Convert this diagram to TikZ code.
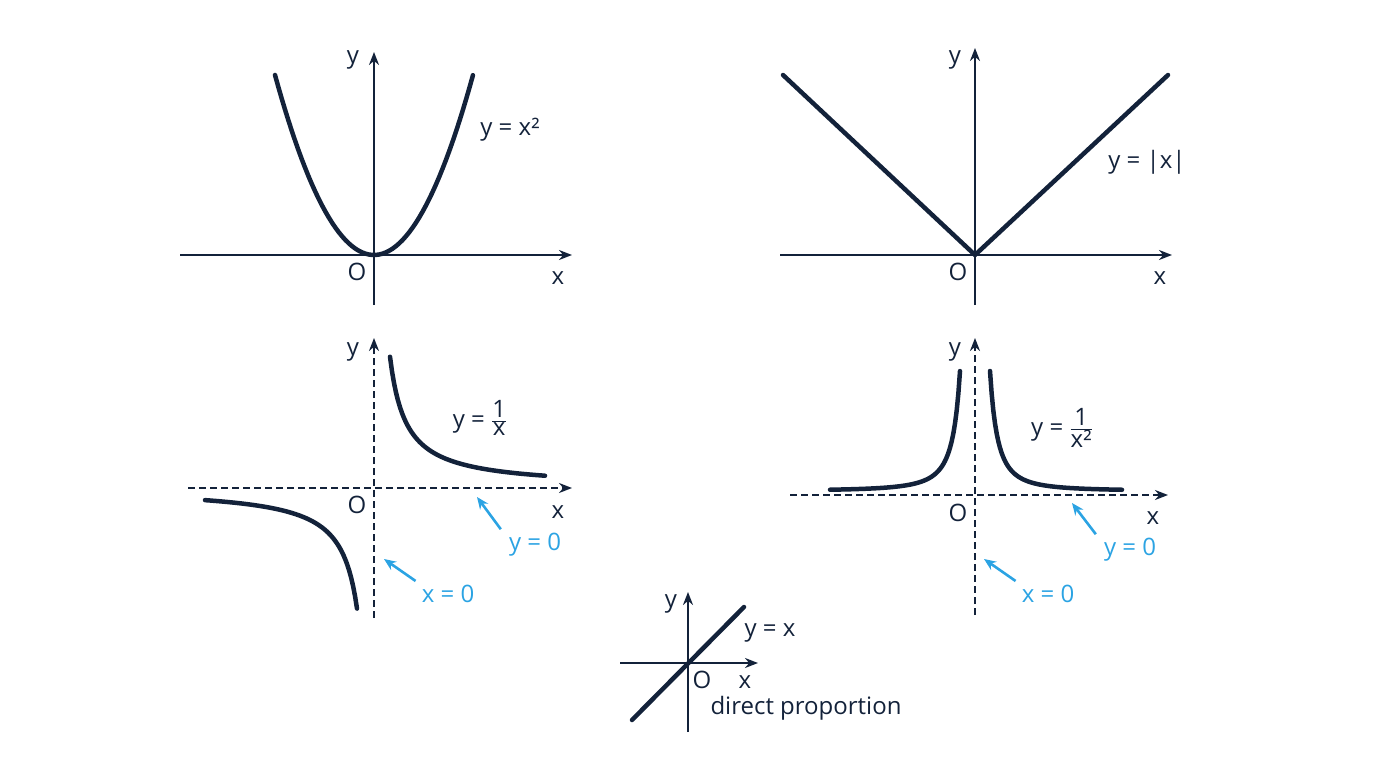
\documentclass[tikz,border=0pt]{standalone}
\usepackage{fontspec}
\setmainfont{Open Sans}
\usetikzlibrary{arrows.meta}
\definecolor{ink}{HTML}{13223A}
\definecolor{sky}{HTML}{2BA3E3}
\begin{document}
\begin{tikzpicture}[x=1pt,y=-1pt,
 axis/.style={ink,line width=2.6pt,-{Stealth[length=13pt,width=10pt]}},
 daxis/.style={axis,dash pattern=on 7pt off 4pt},
 curve/.style={ink,line width=4.5pt,line cap=round,line join=round},
 lbl/.style={ink,font=\fontsize{24}{26}\selectfont,inner sep=0pt},
 blbl/.style={sky,font=\fontsize{24}{26}\selectfont,inner sep=0pt},
 barrow/.style={sky,line width=2.6pt,-{Stealth[length=12pt,width=10pt]}}]
\useasboundingbox (0,0) rectangle (1376,768);
% graph 1
\coordinate (a1s) at (180,255); \coordinate (a1e) at (572,255);
\coordinate (b1s) at (374,305); \coordinate (b1e) at (374,52);
\draw[axis] (a1s) -- (a1e); \draw[axis] (b1s) -- (b1e);
\draw[curve] plot[domain=-1:1,samples=60] ({374+99*\x},{255-180*\x*\x});
\node[lbl] (l1) at (510,130) {y = x²};
\node[lbl] (o1) at (357,272) {O}; \node[lbl] (x1) at (558,278) {x}; \node[lbl] (y1) at (353,60) {y};
% graph 2
\coordinate (a2s) at (780,255); \coordinate (a2e) at (1172,255);
\coordinate (b2s) at (975,305); \coordinate (b2e) at (975,48);
\draw[axis] (a2s) -- (a2e); \draw[axis] (b2s) -- (b2e);
\draw[curve] (783,75) -- (975,255) -- (1168,75);
\node[lbl] (l2) at (1147,162) {y = |x|};
\node[lbl] (o2) at (958,272) {O}; \node[lbl] (x2) at (1160,278) {x}; \node[lbl] (y2) at (955,60) {y};
% graph 3
\coordinate (a3s) at (188,488); \coordinate (a3e) at (572,488);
\coordinate (b3s) at (374,618); \coordinate (b3e) at (374,338);
\draw[daxis] (a3s) -- (a3e); \draw[daxis] (b3s) -- (b3e);
\draw[curve] plot[domain=16:171,samples=80] ({374+\x},{488-2100/\x});
\draw[curve] plot[domain=-169:-17,samples=80] ({374+\x},{488-2050/\x});
\node[lbl] (l3) at (480,418) {y = $\frac{\mbox{1}}{\mbox{x}}$};
\node[lbl] (o3) at (357,505) {O}; \node[lbl] (x3) at (558,512) {x}; \node[lbl] (y3) at (353,352) {y};
\node[blbl] (y03) at (535,545) {y = 0}; \node[blbl] (x03) at (448,594) {x = 0};
\coordinate (t3a) at (477,497); \coordinate (t3b) at (384,559);
\draw[barrow] (y03.north west) ++(-8,-4) coordinate (s3a) -- (t3a);
\draw[barrow] (x03.north west) ++(-6,-4) coordinate (s3b) -- (t3b);
% graph 4
\coordinate (a4s) at (790,495); \coordinate (a4e) at (1168,495);
\coordinate (b4s) at (975,615); \coordinate (b4e) at (975,338);
\draw[daxis] (a4s) -- (a4e); \draw[daxis] (b4s) -- (b4e);
\draw[curve] plot[domain=1.5:14.7,samples=80] ({975+10*\x},{491-270/(\x*\x)});
\draw[curve] plot[domain=-14.5:-1.5,samples=80] ({975+10*\x},{491-270/(\x*\x)});
\node[lbl] (l4) at (1062,428) {y = $\frac{\mbox{1}}{\mbox{x²}}$};
\node[lbl] (o4) at (958,513) {O}; \node[lbl] (x4) at (1153,518) {x}; \node[lbl] (y4) at (955,352) {y};
\node[blbl] (y04) at (1130,550) {y = 0}; \node[blbl] (x04) at (1048,594) {x = 0};
\coordinate (t4a) at (1072,503); \coordinate (t4b) at (984,559);
\draw[barrow] (y04.north west) ++(-8,-4) coordinate (s4a) -- (t4a);
\draw[barrow] (x04.north west) ++(-6,-4) coordinate (s4b) -- (t4b);
% graph 5
\coordinate (a5s) at (620,663); \coordinate (a5e) at (758,663);
\coordinate (b5s) at (688,732); \coordinate (b5e) at (688,592);
\draw[axis,line width=2.2pt] (a5s) -- (a5e); \draw[axis,line width=2.2pt] (b5s) -- (b5e);
\coordinate (p5a) at (632,720); \coordinate (p5b) at (744,607);
\draw[curve] (p5a) -- (p5b);
\node[lbl] (y5) at (671,604) {y}; \node[lbl] (o5) at (702,680) {O}; \node[lbl] (x5) at (745,682) {x};
\node[lbl] (l5) at (770,633) {y = x};
\node[lbl] (d5) at (806,708) {direct proportion};
\end{tikzpicture}
\end{document}
